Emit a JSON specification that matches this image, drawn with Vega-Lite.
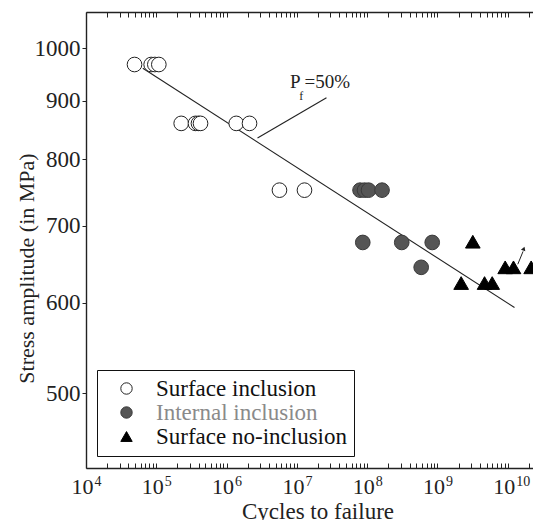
{
  "$schema": "https://vega.github.io/schema/vega-lite/v6.json",
  "width": 447,
  "height": 456,
  "autosize": {"type": "none"},
  "padding": {"left": 86, "top": 12, "right": 0, "bottom": 52},
  "config": {
    "view": {"stroke": null},
    "font": "Liberation Serif",
    "axis": {"grid": false, "domainColor": "#222", "domainWidth": 1.4, "tickColor": "#222", "labelColor": "#222", "titleColor": "#222", "labelFont": "Liberation Serif", "titleFont": "Liberation Serif", "titleFontWeight": "normal"}
  },
  "resolve": {"axis": {"x": "independent"}},
  "datasets": {
    "pts": [
      {"n": 49000, "s": 968, "type": "Surface inclusion"},
      {"n": 84500, "s": 968, "type": "Surface inclusion"},
      {"n": 95300, "s": 968, "type": "Surface inclusion"},
      {"n": 108600, "s": 968, "type": "Surface inclusion"},
      {"n": 226000, "s": 860, "type": "Surface inclusion"},
      {"n": 361000, "s": 860, "type": "Surface inclusion"},
      {"n": 398000, "s": 860, "type": "Surface inclusion"},
      {"n": 425600, "s": 860, "type": "Surface inclusion"},
      {"n": 1371000, "s": 860, "type": "Surface inclusion"},
      {"n": 2118000, "s": 860, "type": "Surface inclusion"},
      {"n": 5650000, "s": 752, "type": "Surface inclusion"},
      {"n": 12820000, "s": 752, "type": "Surface inclusion"},
      {"n": 79100000, "s": 752, "type": "Internal inclusion"},
      {"n": 91600000, "s": 752, "type": "Internal inclusion"},
      {"n": 104500000, "s": 752, "type": "Internal inclusion"},
      {"n": 162600000, "s": 752, "type": "Internal inclusion"},
      {"n": 86500000, "s": 677, "type": "Internal inclusion"},
      {"n": 310000000, "s": 677, "type": "Internal inclusion"},
      {"n": 841000000, "s": 677, "type": "Internal inclusion"},
      {"n": 586000000, "s": 644, "type": "Internal inclusion"},
      {"n": 3180000000, "s": 678, "type": "Surface no-inclusion"},
      {"n": 2170000000, "s": 624, "type": "Surface no-inclusion"},
      {"n": 4670000000, "s": 624, "type": "Surface no-inclusion"},
      {"n": 6000000000, "s": 624, "type": "Surface no-inclusion"},
      {"n": 9180000000, "s": 644, "type": "Surface no-inclusion"},
      {"n": 12050000000, "s": 644, "type": "Surface no-inclusion"},
      {"n": 21500000000, "s": 644, "type": "Surface no-inclusion"}
    ],
    "fit": [{"n": 64270, "s": 960.7}, {"n": 12450000000, "s": 594}],
    "leader": [{"n": 2754000, "s": 835}, {"n": 26360000, "s": 905.5}],
    "arrow": [{"n": 13870000000, "s": 648}, {"n": 16500000000, "s": 665}],
    "arrowhead": [{"n": 16900000000, "s": 668.7}],
    "lblP": [{"n": 8000000, "s": 922.6, "t": "P"}],
    "lblF": [{"n": 10800000, "s": 901, "t": "f"}],
    "lblR": [{"n": 12820000, "s": 922.6, "t": "=50%"}]
  },
  "encoding": {
    "x": {"field": "n", "type": "quantitative",
      "scale": {"type": "log", "domain": [10000, 22830000000], "nice": false}, "axis": null},
    "y": {"field": "s", "type": "quantitative",
      "scale": {"type": "log", "domain": [430.3, 1075.7], "nice": false},
      "axis": {"title": "Stress amplitude (in MPa)", "titleFontSize": 22, "format": "d",
        "values": [500, 600, 700, 800, 900, 1000], "tickSize": 4, "labelPadding": 2,
        "labelFontSize": 23, "labelBaseline": "middle", "labelOverlap": false, "labelFlush": false,
        "titleX": -60, "titleY": 256, "titleBaseline": "middle", "titleAlign": "center", "titleAngle": 270}}
  },
  "layer": [
    {
      "data": {"name": "fit"},
      "mark": {"type": "line", "color": "#222", "strokeWidth": 1.1},
      "encoding": {
        "x": {"field": "n", "type": "quantitative",
          "axis": {"orient": "bottom", "title": "Cycles to failure", "titleFontSize": 23,
            "values": [10000,20000,30000,40000,50000,60000,70000,80000,90000,100000,200000,300000,400000,500000,600000,700000,800000,900000,1000000,2000000,3000000,4000000,5000000,6000000,7000000,8000000,9000000,10000000,20000000,30000000,40000000,50000000,60000000,70000000,80000000,90000000,100000000,200000000,300000000,400000000,500000000,600000000,700000000,800000000,900000000,1000000000,2000000000,3000000000,4000000000,5000000000,6000000000,7000000000,8000000000,9000000000,10000000000,20000000000],
            "labelExpr": "(datum.value == 10000 || datum.value == 100000 || datum.value == 1000000 || datum.value == 10000000 || datum.value == 100000000 || datum.value == 1000000000 || datum.value == 10000000000) ? '10' : ''",
            "tickSize": -5, "labelPadding": 30, "labelBaseline": "alphabetic", "labelFontSize": 22, "labelOffset": -4,
            "labelOverlap": false, "labelFlush": false, "labelBound": false,
            "titleX": 231.5, "titleY": 50, "titleBaseline": "alphabetic", "titleAlign": "center"}}
      }
    },
    {
      "data": {"name": "fit"},
      "mark": {"type": "line", "opacity": 0},
      "encoding": {
        "x": {"field": "n", "type": "quantitative",
          "axis": {"orient": "bottom", "title": null, "domain": false, "ticks": false, "tickSize": 0,
            "values": [10000, 100000, 1000000, 10000000, 100000000, 1000000000, 10000000000],
            "labelExpr": "format(round(log(datum.value) / LN10), 'd')",
            "labelAlign": "left", "labelOffset": 8, "labelPadding": 17, "labelBaseline": "alphabetic", "labelFontSize": 14,
            "labelOverlap": false, "labelFlush": false, "labelBound": false}}
      }
    },
    {
      "data": {"name": "fit"},
      "mark": {"type": "line", "opacity": 0},
      "encoding": {
        "x": {"field": "n", "type": "quantitative",
          "axis": {"orient": "top", "title": null, "labels": false, "tickSize": -5,
            "values": [10000,20000,30000,40000,50000,60000,70000,80000,90000,100000,200000,300000,400000,500000,600000,700000,800000,900000,1000000,2000000,3000000,4000000,5000000,6000000,7000000,8000000,9000000,10000000,20000000,30000000,40000000,50000000,60000000,70000000,80000000,90000000,100000000,200000000,300000000,400000000,500000000,600000000,700000000,800000000,900000000,1000000000,2000000000,3000000000,4000000000,5000000000,6000000000,7000000000,8000000000,9000000000,10000000000,20000000000]}}
      }
    },
    {
      "data": {"name": "leader"},
      "mark": {"type": "line", "color": "#222", "strokeWidth": 1.1}
    },
    {
      "data": {"name": "arrow"},
      "mark": {"type": "line", "color": "#222", "strokeWidth": 1}
    },
    {
      "data": {"name": "arrowhead"},
      "mark": {"type": "point", "shape": "triangle-up", "angle": 21, "size": 22, "filled": true, "color": "#222", "opacity": 1}
    },
    {
      "data": {"name": "pts"},
      "mark": {"type": "point", "filled": true, "size": 215, "strokeWidth": 1, "opacity": 1},
      "encoding": {
        "shape": {"field": "type", "type": "nominal",
          "scale": {"domain": ["Surface inclusion", "Internal inclusion", "Surface no-inclusion"], "range": ["circle", "circle", "triangle-up"]},
          "legend": {"orient": "none", "legendX": 11, "legendY": 358, "title": null,
            "fillColor": "#fff", "strokeColor": "#111", "padding": 7,
            "labelFont": "Liberation Serif", "labelFontSize": 23,
            "labelColor": {"expr": "datum.label == 'Internal inclusion' ? '#8a8a8a' : '#111'"},
            "symbolSize": 130, "symbolStrokeWidth": 1, "symbolOffset": 11, "labelOffset": 18, "rowPadding": 0, "labelLimit": 400}},
        "fill": {"field": "type", "type": "nominal",
          "scale": {"domain": ["Surface inclusion", "Internal inclusion", "Surface no-inclusion"], "range": ["#ffffff", "#555555", "#000000"]},
          "legend": {"orient": "none", "legendX": 11, "legendY": 358, "title": null,
            "fillColor": "#fff", "strokeColor": "#111", "padding": 7,
            "labelFont": "Liberation Serif", "labelFontSize": 23,
            "labelColor": {"expr": "datum.label == 'Internal inclusion' ? '#8a8a8a' : '#111'"},
            "symbolSize": 130, "symbolStrokeWidth": 1, "symbolOffset": 11, "labelOffset": 18, "rowPadding": 0, "labelLimit": 400}},
        "stroke": {"field": "type", "type": "nominal",
          "scale": {"domain": ["Surface inclusion", "Internal inclusion", "Surface no-inclusion"], "range": ["#222222", "#3a3a3a", "#000000"]},
          "legend": {"orient": "none", "legendX": 11, "legendY": 358, "title": null,
            "fillColor": "#fff", "strokeColor": "#111", "padding": 7,
            "labelFont": "Liberation Serif", "labelFontSize": 23,
            "labelColor": {"expr": "datum.label == 'Internal inclusion' ? '#8a8a8a' : '#111'"},
            "symbolSize": 130, "symbolStrokeWidth": 1, "symbolOffset": 11, "labelOffset": 18, "rowPadding": 0, "labelLimit": 400}}
      }
    },
    {
      "data": {"name": "lblP"},
      "mark": {"type": "text", "align": "left", "baseline": "alphabetic", "fontSize": 19, "font": "Liberation Serif", "color": "#222"},
      "encoding": {"text": {"field": "t"}}
    },
    {
      "data": {"name": "lblF"},
      "mark": {"type": "text", "align": "left", "baseline": "alphabetic", "fontSize": 12, "font": "Liberation Serif", "color": "#222"},
      "encoding": {"text": {"field": "t"}}
    },
    {
      "data": {"name": "lblR"},
      "mark": {"type": "text", "align": "left", "baseline": "alphabetic", "fontSize": 19, "font": "Liberation Serif", "color": "#222"},
      "encoding": {"text": {"field": "t"}}
    }
  ]
}
